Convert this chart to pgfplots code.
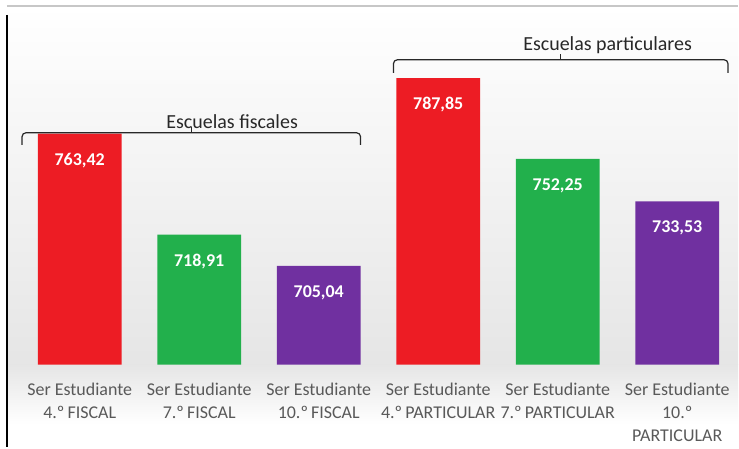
\documentclass[border=0pt]{standalone}
\usepackage{pgfplots}
\pgfplotsset{compat=1.18}
\usepackage{fontspec}
\setmainfont{Carlito}

\definecolor{barred}{RGB}{237,28,36}
\definecolor{bargreen}{RGB}{34,176,76}
\definecolor{barpurple}{RGB}{112,48,160}
\definecolor{labgray}{RGB}{89,89,89}
\definecolor{brace}{RGB}{40,40,40}

\newcommand{\lab}{\fontsize{13.5}{17.2}\selectfont}

\begin{document}
\begin{tikzpicture}
% frame and background (1px = 0.75pt, axis box lower left at the origin)
\path (-15pt,-62.25pt) rectangle (539.25pt,273.75pt);
\shade[top color=white, bottom color=black!10] (-9.75pt,0pt) rectangle (539.25pt,269.25pt);
\shade[top color=black!10, bottom color=white] (-9.75pt,-45pt) rectangle (539.25pt,0pt);
\draw[black!22, line width=1.5pt] (-9.75pt,269.25pt) -- (539.25pt,269.25pt);
\draw[black, line width=1.2pt] (-9.75pt,262.5pt) -- (-9.75pt,-62.25pt);

\begin{axis}[
    at={(0,0)}, anchor=south west,
    scale only axis,
    width=538.5pt, height=269.25pt,
    xmin=-0.5, xmax=5.5,
    ymin=661.6, ymax=819.7,
    ybar,
    bar width=63pt,
    axis line style={draw=none},
    ytick=\empty,
    xtick={0,1,2,3,4,5},
    major tick length=0pt,
    xticklabels={{Ser Estudiante\\4.º\,FISCAL},{Ser Estudiante\\7.º\,FISCAL},{Ser Estudiante\\10.º\,FISCAL},
                 {Ser Estudiante\\4.º\,PARTICULAR},{Ser Estudiante\\7.º\,PARTICULAR},{Ser Estudiante\\10.º\\PARTICULAR}},
    xticklabel style={align=center, font=\lab, text=labgray, anchor=north, yshift=-10.5pt},
    point meta=explicit symbolic,
    nodes near coords,
    nodes near coords style={font=\lab\bfseries, text=white, anchor=center, yshift=-20pt},
    clip=false,
]
\addplot[fill=barred, draw=none, bar shift=0pt] coordinates {(0,763.42)[763,42] (3,787.85)[787,85]};
\addplot[fill=bargreen, draw=none, bar shift=0pt] coordinates {(1,718.91)[718,91] (4,752.25)[752,25]};
\addplot[fill=barpurple, draw=none, bar shift=0pt] coordinates {(2,705.04)[705,04] (5,733.53)[733,53]};

% group braces
\draw[brace, line width=0.9pt, rounded corners=3pt]
  (axis cs:-0.483,758.5) |- (axis cs:2.35,763.8) -- (axis cs:2.35,758.5);
\draw[brace, line width=0.9pt] (axis cs:0.933,763.8) -- (axis cs:0.933,766.3);
\node[font=\fontsize{15}{18}\selectfont, text=brace] at (axis cs:1.275,768.6) {Escuelas fiscales};

\draw[brace, line width=0.9pt, rounded corners=3pt]
  (axis cs:2.625,790.2) |- (axis cs:5.425,796) -- (axis cs:5.425,790.2);
\draw[brace, line width=0.9pt] (axis cs:4.025,796) -- (axis cs:4.025,798.5);
\node[font=\fontsize{15}{18}\selectfont, text=brace] at (axis cs:4.417,802.4) {Escuelas particulares};
\end{axis}
\end{tikzpicture}
\end{document}
